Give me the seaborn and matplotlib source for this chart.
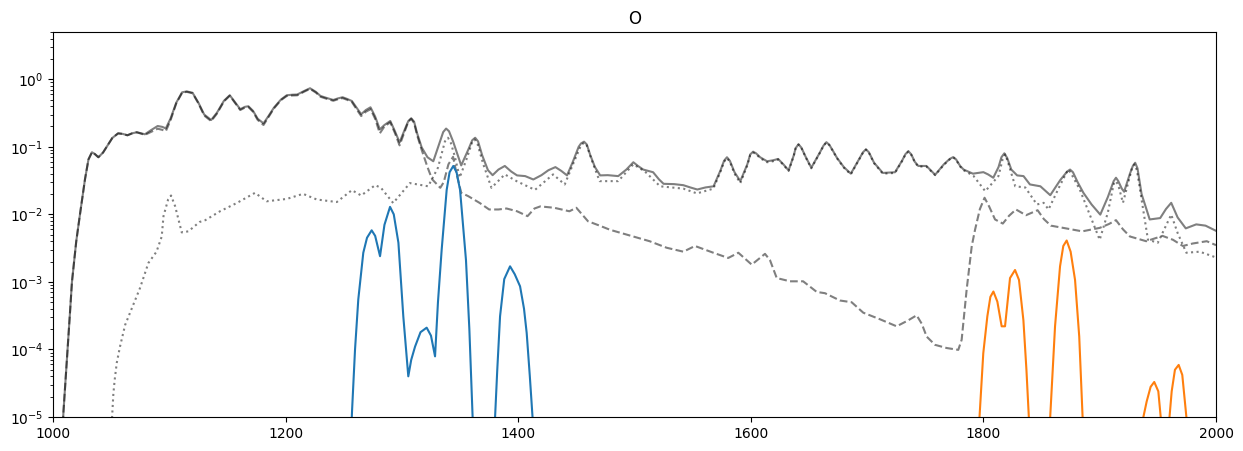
import matplotlib
matplotlib.use("Agg")
import matplotlib.pyplot as plt
import seaborn as sns

# ---- data ----
total_x = [1008.5, 1009, 1011.8, 1014.6, 1016.3, 1020, 1023.2, 1027.5, 1030.5, 1033.5, 1036, 1039, 1043, 1047, 1051,
           1056, 1060, 1064, 1068, 1072, 1076, 1079, 1084, 1090, 1094, 1097, 1101, 1106, 1111, 1115, 1120, 1125,
           1130, 1136, 1141, 1147, 1152, 1156, 1161, 1165, 1168, 1172, 1176, 1181, 1185, 1190, 1196, 1201, 1206,
           1210, 1216, 1221, 1226, 1230, 1235, 1241, 1245, 1249, 1253, 1257, 1261, 1265, 1269, 1273, 1277, 1281,
           1285, 1290, 1294, 1298, 1303, 1305.5, 1308, 1310.5, 1313, 1317, 1322, 1327, 1332, 1335.5, 1338, 1340.5,
           1344, 1351, 1357, 1360.5, 1363, 1365.5, 1369, 1374, 1378, 1383, 1388.5, 1394, 1399, 1406, 1413, 1420,
           1426, 1432, 1437, 1442, 1447, 1452, 1454, 1456.6, 1459, 1462, 1466, 1470.5, 1477, 1486, 1493, 1499,
           1503, 1507.5, 1516, 1521, 1525, 1534, 1542, 1548, 1554, 1561, 1568, 1574, 1577, 1579.5, 1582, 1586,
           1591, 1597, 1599.5, 1602, 1604.5, 1608, 1614, 1619, 1623.5, 1628, 1632.5, 1637, 1638.5, 1641, 1643.5,
           1647, 1652, 1659, 1662.5, 1665, 1667.5, 1671, 1674, 1680, 1686, 1693, 1696.5, 1699, 1701.5, 1706,
           1713.5, 1724, 1730, 1733, 1735.5, 1738, 1741, 1744, 1751, 1758.5, 1766, 1771, 1774, 1776.5, 1780,
           1783, 1791, 1800, 1804, 1808.5, 1813, 1815.5, 1818, 1820.5, 1824, 1829, 1834.5, 1840, 1849, 1857.5,
           1866, 1872, 1874.5, 1877, 1881, 1886, 1893, 1900.5, 1907, 1912, 1914, 1916, 1919, 1921, 1926, 1928.5,
           1930.5, 1932.5, 1936, 1943, 1952, 1957, 1961.5, 1967, 1974, 1983, 1991, 2000]
total_y = [8e-6, 1.2e-5, 6.3e-5, 3.5e-4, 1e-3, 0.004, 0.01, 0.033, 0.065, 0.083, 0.078, 0.07, 0.082, 0.105, 0.135,
           0.158, 0.155, 0.148, 0.158, 0.164, 0.158, 0.153, 0.175, 0.203, 0.197, 0.187, 0.26, 0.45, 0.64, 0.66,
           0.63, 0.45, 0.3, 0.249, 0.32, 0.48, 0.579, 0.47, 0.36, 0.39, 0.398, 0.34, 0.26, 0.222, 0.28, 0.38, 0.5,
           0.579, 0.59, 0.593, 0.67, 0.735, 0.65, 0.565, 0.53, 0.493, 0.52, 0.541, 0.51, 0.476, 0.38, 0.303, 0.35,
           0.384, 0.28, 0.181, 0.21, 0.241, 0.17, 0.116, 0.19, 0.24, 0.264, 0.235, 0.16, 0.098, 0.07, 0.061, 0.11,
           0.165, 0.186, 0.17, 0.12, 0.053, 0.09, 0.125, 0.136, 0.12, 0.075, 0.045, 0.038, 0.046, 0.052, 0.043,
           0.0377, 0.0368, 0.0328, 0.038, 0.045, 0.05, 0.044, 0.0377, 0.06, 0.1, 0.112, 0.119, 0.108, 0.075,
           0.05, 0.0377, 0.038, 0.0368, 0.046, 0.059, 0.052, 0.046, 0.042, 0.033, 0.0283, 0.028, 0.027, 0.025,
           0.0233, 0.025, 0.026, 0.045, 0.062, 0.07, 0.062, 0.042, 0.031, 0.055, 0.077, 0.0846, 0.08, 0.07, 0.061,
           0.063, 0.066, 0.055, 0.0447, 0.075, 0.095, 0.109, 0.097, 0.072, 0.049, 0.08, 0.104, 0.117, 0.107, 0.085,
           0.069, 0.05, 0.040, 0.065, 0.083, 0.0915, 0.083, 0.058, 0.041, 0.042, 0.062, 0.078, 0.086, 0.077, 0.06,
           0.052, 0.052, 0.0385, 0.055, 0.066, 0.0703, 0.065, 0.052, 0.046, 0.040, 0.0421, 0.039, 0.0348, 0.05,
           0.07, 0.080, 0.068, 0.046, 0.0377, 0.0368, 0.0277, 0.026, 0.0192, 0.032, 0.043, 0.046, 0.042, 0.03,
           0.0208, 0.014, 0.0099, 0.018, 0.031, 0.0348, 0.031, 0.024, 0.0216, 0.04, 0.052, 0.058, 0.048, 0.02,
           0.0084, 0.0088, 0.012, 0.0148, 0.009, 0.0062, 0.0071, 0.0068, 0.0057]

dashed_x = [1008.5, 1009, 1011.8, 1014.6, 1016.3, 1020, 1023.2, 1027.5, 1030.5, 1033.5, 1036, 1039, 1043, 1047, 1051,
            1056, 1060, 1064, 1068, 1072, 1076, 1079, 1084, 1090, 1094, 1097, 1101, 1106, 1111, 1115, 1120, 1125,
            1130, 1136, 1141, 1147, 1152, 1156, 1161, 1165, 1168, 1172, 1176, 1181, 1185, 1190, 1196, 1201, 1206,
            1210, 1216, 1221, 1226, 1230, 1235, 1241, 1245, 1249, 1253, 1257, 1261, 1265, 1269, 1273, 1277, 1281,
            1285, 1290, 1294, 1298, 1303, 1305.5, 1308, 1310.5, 1313, 1317, 1322, 1326, 1333, 1336, 1340, 1344,
            1347, 1351, 1357, 1367, 1375, 1383, 1390, 1399, 1408, 1414, 1419, 1431, 1444, 1450, 1460, 1470, 1479,
            1490, 1499, 1513, 1527.7, 1542, 1552, 1567.8, 1580.6, 1589.3, 1600.8, 1612.2, 1616.5, 1622.3, 1633.7,
            1645, 1656.7, 1663.8, 1676.7, 1686.7, 1696.7, 1711, 1725.4, 1735.4, 1742.6, 1747, 1751.2, 1758.4,
            1768.4, 1778.4, 1781.3, 1785.6, 1790, 1792.8, 1797, 1801, 1805, 1810, 1816.7, 1822, 1828, 1836.6,
            1846.6, 1852, 1858, 1871, 1885, 1900, 1908, 1914, 1920, 1926, 1940, 1954, 1963, 1971.5, 1980, 1992, 2000]
dashed_y = [8e-6, 1.2e-5, 6.3e-5, 3.5e-4, 1e-3, 0.004, 0.01, 0.033, 0.065, 0.083, 0.078, 0.07, 0.082, 0.105, 0.135,
            0.158, 0.155, 0.148, 0.158, 0.164, 0.156, 0.15, 0.165, 0.185, 0.178, 0.17, 0.245, 0.44, 0.63, 0.65,
            0.62, 0.44, 0.29, 0.24, 0.31, 0.47, 0.57, 0.46, 0.35, 0.38, 0.388, 0.33, 0.25, 0.21, 0.27, 0.37, 0.49,
            0.565, 0.575, 0.578, 0.655, 0.72, 0.635, 0.55, 0.515, 0.48, 0.505, 0.525, 0.495, 0.46, 0.36, 0.285,
            0.33, 0.36, 0.26, 0.158, 0.2, 0.23, 0.16, 0.105, 0.18, 0.235, 0.26, 0.225, 0.15, 0.09, 0.05, 0.033,
            0.0247, 0.03, 0.055, 0.071, 0.04, 0.0208, 0.0186, 0.0147, 0.0118, 0.0118, 0.0122, 0.0111, 0.0094,
            0.0122, 0.0131, 0.0125, 0.0111, 0.0125, 0.0079, 0.0068, 0.0059, 0.0052, 0.0047, 0.0040, 0.0032, 0.0028,
            0.0034, 0.0027, 0.00226, 0.0027, 0.0018, 0.0026, 0.0021, 0.00114, 0.00102, 0.00102, 0.00071, 0.00068,
            0.00053, 0.0005, 0.00035, 0.00028, 0.00022, 0.00027, 0.00032, 0.00024, 0.000155, 0.000117, 0.000105,
            0.0000986, 0.000139, 0.00077, 0.0034, 0.0059, 0.012, 0.0176, 0.013, 0.0084, 0.0073, 0.0095, 0.0118,
            0.0097, 0.0115, 0.0085, 0.0068, 0.0062, 0.0056, 0.0063, 0.0072, 0.0082, 0.006, 0.0047, 0.0040, 0.0048,
            0.0042, 0.0034, 0.0037, 0.0040, 0.0035]

dotted_x = [1050.5, 1051.9, 1053, 1054.8, 1057.6, 1062, 1069, 1074.8, 1082, 1089, 1093.5, 1095, 1099, 1101.5, 1105,
            1110.7, 1116.4, 1126, 1131, 1143.6, 1158, 1173.7, 1183.7, 1201, 1215, 1226.7, 1244, 1257, 1265, 1277,
            1282, 1292.5, 1306.9, 1322.6, 1331, 1337, 1339.6, 1342, 1345.4, 1349.7, 1355.5, 1360.5, 1362.6, 1365,
            1370, 1377, 1388.5, 1398.6, 1414.4, 1430, 1440, 1448, 1454, 1456.6, 1459, 1463, 1470, 1486, 1499, 1509,
            1522, 1542, 1553.7, 1567.8, 1574, 1577, 1579.5, 1582, 1586, 1591, 1597, 1599.5, 1602, 1604.5, 1608,
            1614, 1619, 1623.5, 1628, 1632.5, 1637, 1638.5, 1641, 1643.5, 1647, 1652, 1659, 1662.5, 1665, 1667.5,
            1671, 1674, 1680, 1686, 1693, 1696.5, 1699, 1701.5, 1706, 1713.5, 1724, 1730, 1733, 1735.5, 1738,
            1741, 1744, 1751, 1758.5, 1766, 1771, 1774, 1776.5, 1780, 1783, 1791.5, 1801.6, 1813, 1816.5, 1818.8,
            1821, 1827.4, 1836, 1846, 1851.8, 1856, 1865, 1871, 1873, 1875.5, 1883, 1900, 1907, 1912, 1914, 1916,
            1920, 1928, 1930, 1932, 1941.5, 1950, 1961.5, 1967, 1974.5, 1986, 2000]
dotted_y = [8e-6, 2.2e-5, 3.5e-5, 6.3e-5, 1.1e-4, 2.3e-4, 4.6e-4, 8.1e-4, 0.0019, 0.0028, 0.0047, 0.0094, 0.0166,
            0.019, 0.0132, 0.0054, 0.0056, 0.0077, 0.0082, 0.0111, 0.0147, 0.0208, 0.0156, 0.0169, 0.0201, 0.0166,
            0.0152, 0.0228, 0.019, 0.027, 0.0247, 0.0147, 0.029, 0.026, 0.049, 0.12, 0.136, 0.115, 0.073, 0.035,
            0.065, 0.118, 0.128, 0.11, 0.055, 0.0247, 0.039, 0.031, 0.023, 0.039, 0.0277, 0.06, 0.105, 0.115,
            0.104, 0.065, 0.031, 0.031, 0.055, 0.043, 0.026, 0.024, 0.0204, 0.024, 0.043, 0.06, 0.068, 0.06, 0.04,
            0.029, 0.053, 0.075, 0.082, 0.078, 0.068, 0.059, 0.061, 0.065, 0.054, 0.044, 0.074, 0.094, 0.108, 0.096,
            0.071, 0.048, 0.079, 0.103, 0.116, 0.106, 0.084, 0.068, 0.049, 0.039, 0.064, 0.082, 0.091, 0.082,
            0.057, 0.040, 0.041, 0.061, 0.077, 0.085, 0.076, 0.059, 0.051, 0.051, 0.038, 0.054, 0.065, 0.070,
            0.064, 0.051, 0.045, 0.037, 0.022, 0.037, 0.065, 0.077, 0.06, 0.026, 0.025, 0.014, 0.0148, 0.0118,
            0.025, 0.04, 0.046, 0.04, 0.023, 0.0042, 0.0106, 0.028, 0.031, 0.027, 0.0148, 0.05, 0.055, 0.045,
            0.0042, 0.0038, 0.0099, 0.0053, 0.0027, 0.0028, 0.0023]

blue_x = [1256.8, 1257.2, 1259.7, 1262.5, 1266.8, 1270, 1274, 1277, 1281.2, 1285, 1289.8, 1293, 1297, 1301.2,
          1305.5, 1308, 1311.3, 1316, 1321.3, 1325, 1328.5, 1331, 1334.2, 1338.5, 1341, 1344.2, 1347, 1350, 1355.1,
          1358, 1360.9, 1380, 1382, 1384.4, 1388, 1393, 1397, 1401.6, 1405, 1407.3, 1410, 1412.5]
blue_y = [9e-6, 1.3e-5, 1e-4, 5.5e-4, 0.0027, 0.0045, 0.0058, 0.0048, 0.0024, 0.007, 0.0129, 0.01, 0.0038,
          0.00031, 4e-5, 7e-5, 1.1e-4, 1.8e-4, 0.00021, 1.6e-4, 7.9e-5, 5e-4, 0.003, 0.023, 0.042, 0.052, 0.042,
          0.023, 0.0021, 2e-4, 9e-6, 9e-6, 5e-5, 0.00031, 0.0011, 0.0017, 0.0013, 0.00086, 0.0004, 0.000175, 4e-5,
          9e-6]

orange_x = [1796.5, 1799.9, 1803.4, 1806, 1808.6, 1812, 1815.7, 1818.6, 1822.9, 1827.2, 1830.6, 1834.4, 1837,
            1839.2, 1857.3, 1861.6, 1865.9, 1868.7, 1871.6, 1875, 1878.8, 1882.4, 1885.4, 1937, 1940.4, 1943.8,
            1946.9, 1950.4, 1952.7, 1959.8, 1961.9, 1964.7, 1967.9, 1971, 1974.8]
orange_y = [9e-6, 8.8e-5, 0.00031, 0.0006, 0.00072, 0.00051, 0.00022, 0.00022, 0.00114, 0.0015, 0.00107, 0.00027,
            5e-5, 9e-6, 9e-6, 0.00022, 0.0017, 0.0034, 0.0041, 0.0028, 0.00107, 0.000155, 9e-6, 9e-6, 1.7e-5,
            2.8e-5, 3.3e-5, 2.4e-5, 9e-6, 9e-6, 2.4e-5, 5e-5, 5.9e-5, 4.2e-5, 9e-6]

# ---- plot ----
fig, ax = plt.subplots(figsize=(12.43, 4.51), dpi=100)
fig.subplots_adjust(left=53/1243, right=1216/1243, bottom=1-417/451, top=1-32/451)

common = dict(ax=ax, estimator=None, sort=False, legend=False)
sns.lineplot(x=total_x, y=total_y, color="k", alpha=0.5, linestyle="-", **common)
sns.lineplot(x=dashed_x, y=dashed_y, color="k", alpha=0.5, linestyle="--", **common)
sns.lineplot(x=dotted_x, y=dotted_y, color="k", alpha=0.5, linestyle=":", **common)
sns.lineplot(x=blue_x, y=blue_y, color="#1f77b4", **common)
sns.lineplot(x=orange_x, y=orange_y, color="#ff7f0e", **common)

ax.set_yscale("log")
ax.set_xlim(1000, 2000)
ax.set_ylim(1e-5, 5)
ax.set_title("O")
ax.set_xlabel("")
ax.set_ylabel("")

fig.savefig("out.png", dpi=100)
